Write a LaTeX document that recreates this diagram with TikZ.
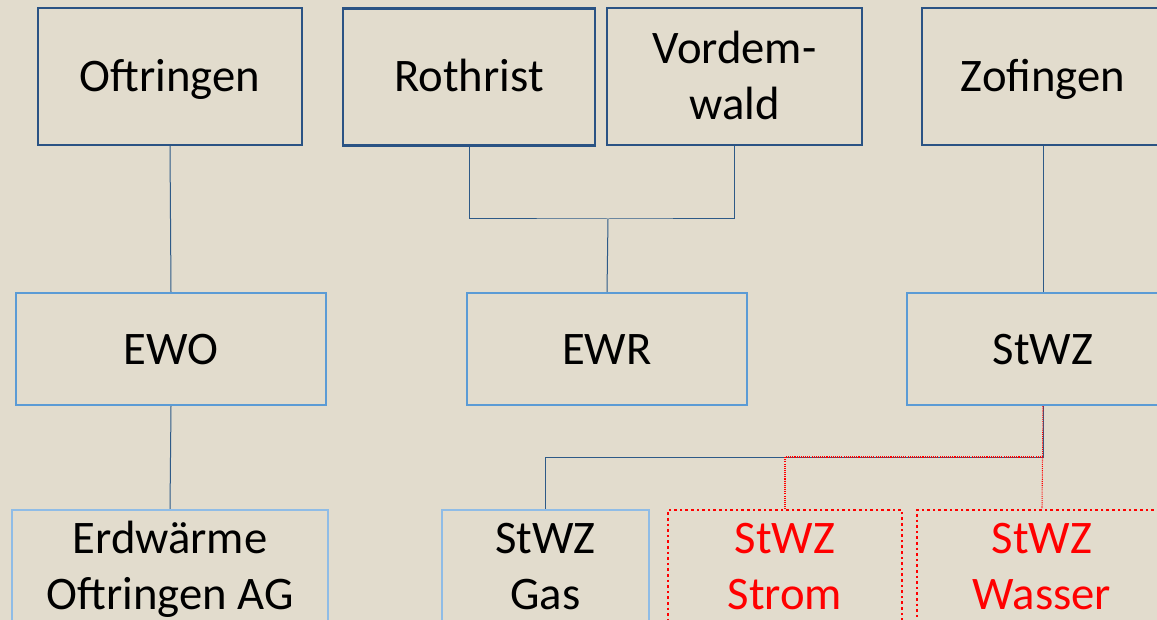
\documentclass[tikz,border=0pt]{standalone}
\usepackage{fontspec}
\setmainfont{Carlito}
\definecolor{bg}{HTML}{E2DCCD}
\definecolor{darkb}{HTML}{2A5384}
\definecolor{midb}{HTML}{5B9BD5}
\definecolor{lightb}{HTML}{8FBCE6}
\definecolor{linec}{HTML}{2E5A87}
\definecolor{redc}{HTML}{FF0000}
\tikzset{
  box/.style={rectangle, inner sep=0pt, align=center, font=\fontsize{35}{42}\selectfont,
    text height=22.5pt, text depth=0pt},
  twoline/.style={text height=64.5pt},
  topbox/.style={box, draw=darkb, line width=1.8pt, minimum height=102.75pt},
  midbox/.style={box, draw=midb, line width=1.8pt, minimum height=84pt},
  lowbox/.style={box, draw=lightb, line width=1.8pt, minimum height=84pt},
  redbox/.style={box, draw=redc, text=redc, line width=2pt, dash pattern=on 2pt off 2.2pt, minimum height=84pt},
  conn/.style={draw=linec, line width=0.75pt},
  redconn/.style={draw=redc, line width=0.8pt, dash pattern=on 0.8pt off 0.8pt},
}
\begin{document}
\begin{tikzpicture}[x=0.75pt,y=-0.75pt]
\useasboundingbox (0,0) rectangle (1157,620);
\fill[bg] (0,0) rectangle (1157,620);
\clip (0,0) rectangle (1157,620);
% top row
\node[topbox, minimum width=198pt] (oft) at (170,76.5) {Oftringen};
\node[topbox, minimum width=189pt] (rot) at (469,77) {Rothrist};
\node[topbox, twoline, minimum width=191.25pt] (vor) at (734.5,76.5) {Vordem-\\wald};
\node[topbox, minimum width=181.5pt] (zof) at (1043,76.5) {Zofingen};
% middle row
\node[midbox, minimum width=232.5pt] (ewo) at (171,349) {EWO};
\node[midbox, minimum width=210pt] (ewr) at (607,349) {EWR};
\node[midbox, minimum width=204pt] (stwz) at (1043,349) {StWZ};
% bottom row
\node[lowbox, twoline, minimum width=237pt] (erd) at (170,566) {Erdwärme\\Oftringen AG};
\node[lowbox, twoline, minimum width=155.25pt] (gas) at (545.5,566) {StWZ\\Gas};
\node[redbox, twoline, minimum width=175.5pt] (strom) at (785,566) {StWZ\\Strom};
\node[redbox, twoline, minimum width=187.5pt] (wasser) at (1042,566) {StWZ\\Wasser};
% connectors
\coordinate (jr) at (608,219);
\coordinate (js) at (1043,457);
\draw[conn] (oft.south) -- (ewo.north);
\draw[conn] (ewo.south) -- (erd.north);
\draw[conn] (rot.south) |- (jr) -| (vor.south);
\draw[conn] (jr) -- (ewr.north);
\draw[conn] (zof.south) -- (stwz.north);
\draw[conn] (stwz.south) -- (js) -| (gas.north);
\draw[redconn] (stwz.south) -- (wasser.north);
\draw[redconn] (js) -| (strom.north);
\end{tikzpicture}
\end{document}
